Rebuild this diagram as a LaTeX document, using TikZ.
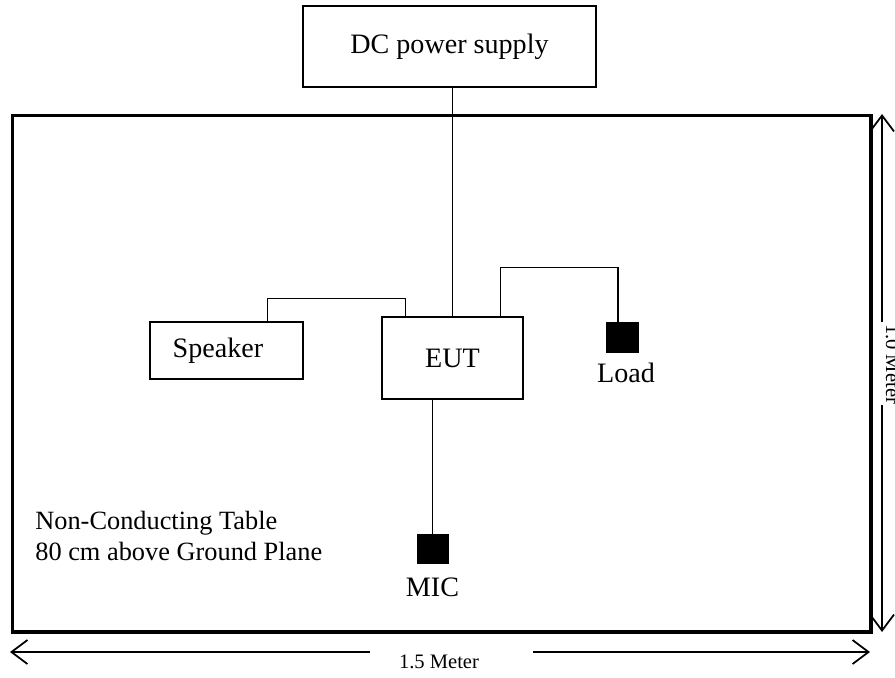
\documentclass[tikz,border=0pt]{standalone}
\usepackage{fontspec}
\setmainfont{Liberation Serif}
\usetikzlibrary{positioning,arrows.meta}
\begin{document}
\begin{tikzpicture}[x=0.02cm, y=-0.02cm, line join=miter,
    box/.style={draw, line width=0.9pt, inner sep=0pt, font=\fontsize{16}{19}\selectfont},
    blk/.style={draw, fill=black, inner sep=0pt},
    wire/.style={line width=0.6pt},
    lbl/.style={inner sep=0pt, font=\fontsize{16}{19}\selectfont},
    tbltxt/.style={inner sep=0pt, anchor=base west, font=\fontsize{15}{18}\selectfont},
    dim/.style={line width=1pt, -{Straight Barb[length=3.2mm,width=4.8mm]}},
    dimtxt/.style={inner sep=0pt, font=\fontsize{11.7}{14}\selectfont}]
    \useasboundingbox (0,0) rectangle (895,677);
    \draw[line width=2pt] (12.5,115.5) rectangle (871,632);
    \node[box, minimum width=5.86cm, minimum height=1.62cm] (dc) at (449.5,46.5) {DC power supply};
    \node[box, minimum width=2.82cm, minimum height=1.64cm] (eut) at (452.5,358) {EUT};
    \node[box, minimum width=3.06cm, minimum height=1.14cm] (spk) at (226.5,350.5) {};
    \node[lbl] (spktxt) at (218,350.5) {Speaker};
    \node[blk, minimum width=0.64cm, minimum height=0.6cm] (load) at (622,337) {};
    \node[lbl, below=6pt of load, xshift=0.08cm] (loadtxt) {Load};
    \node[blk, minimum width=0.62cm, minimum height=0.58cm] (mic) at (432.5,549) {};
    \node[lbl, below=7.5pt of mic] (mictxt) {MIC};
    \node[tbltxt] (tbl1) at (35,529) {Non-Conducting Table};
    \node[tbltxt] (tbl2) at (35,560) {80 cm above Ground Plane};
    \draw[wire] (dc.south -| eut.north) -- (eut.north);
    \draw[wire] ([xshift=-0.72cm]spk.north east) -- ++(0,-23) -| ([xshift=0.48cm]eut.north west);
    \draw[wire] ([xshift=-0.46cm]eut.north east) -- ++(0,-49) -| ([xshift=-0.08cm]load.north);
    \draw[wire] (mic.north |- eut.south) -- (mic.north);
    \node[dimtxt, anchor=base] (hlen) at (439,668) {1.5 Meter};
    \node[dimtxt, anchor=base, rotate=-90] (vlen) at (886,364) {1.0 Meter};
    \coordinate (hl) at (10,652);
    \coordinate (hr) at (870,652);
    \coordinate (vt) at (882,114);
    \coordinate (vb) at (882,632);
    \draw[dim] (370,652) -- (hl);
    \draw[dim] (533,652) -- (hr);
    \draw[dim] (vt |- 0,322) -- (vt);
    \draw[dim] (vb |- 0,405) -- (vb);
\end{tikzpicture}
\end{document}
